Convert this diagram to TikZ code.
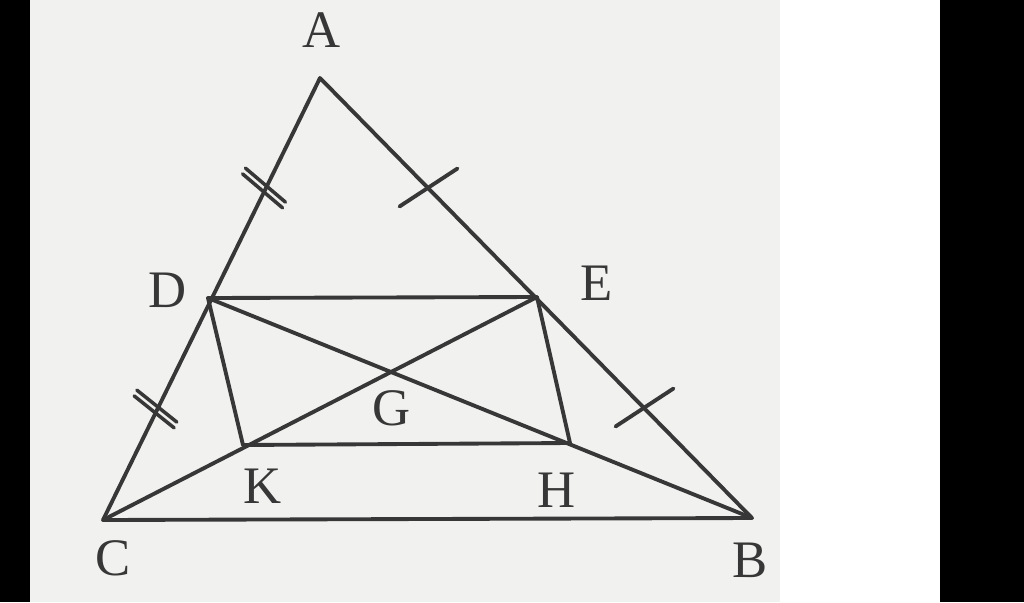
\documentclass[tikz,border=0pt]{standalone}
\usepackage{fontspec}
\setmainfont{Liberation Serif}
\usetikzlibrary{calc}

\definecolor{ink}{RGB}{55,55,55}
\definecolor{paper}{RGB}{241,241,239}

\begin{document}
\begin{tikzpicture}[x=0.02cm,y=-0.02cm,line width=2.2pt,line join=round,line cap=round]
  \tikzstyle{pt}=[inner sep=0pt,text=ink,font=\fontsize{30}{34}\selectfont]
  \tikzstyle{side}=[draw=ink]

  % background of the scan
  \useasboundingbox (0,0) rectangle (1024,602);
  \fill[black] (0,0) rectangle (1024,602);
  \fill[white] (30,0) rectangle (940,602);
  \fill[paper] (30,0) rectangle (780,602);

  \coordinate (A) at (320,78);
  \coordinate (C) at (103,520);
  \coordinate (B) at (752,518);
  \coordinate (D) at (208,298);
  \coordinate (E) at (537,297);
  \coordinate (G) at (390,378);
  \coordinate (K) at (243,445);
  \coordinate (H) at (570,443);

  \node[pt] (lA) at (322,30)  {A};
  \node[pt] (lD) at (168,290) {D};
  \node[pt] (lE) at (597,283) {E};
  \node[pt] (lG) at (392,408) {G};
  \node[pt] (lK) at (263,486) {K};
  \node[pt] (lH) at (557,490) {H};
  \node[pt] (lC) at (113,558) {C};
  \node[pt] (lB) at (750,560) {B};

  \draw[side] (A) -- (C) -- (B) -- cycle;
  \draw[side] (D) -- (E) -- (H) -- (K) -- cycle;
  \draw[side] (D) -- (B);
  \draw[side] (E) -- (C);

  % equal marks
  \draw[side] ($(A)!0.5!(E)$) +(29,-19) -- +(-29,19);
  \draw[side] ($(E)!0.5!(B)$) +(29,-19) -- +(-29,19);
  \foreach \p in {0.487,0.513} {
    \draw[side,line width=2pt] ($(A)!\p!(D)$) +(-20,-17) -- +(20,17);
    \draw[side,line width=2pt] ($(D)!\p!(C)$) +(-20,-16) -- +(20,16);
  }
\end{tikzpicture}
\end{document}
